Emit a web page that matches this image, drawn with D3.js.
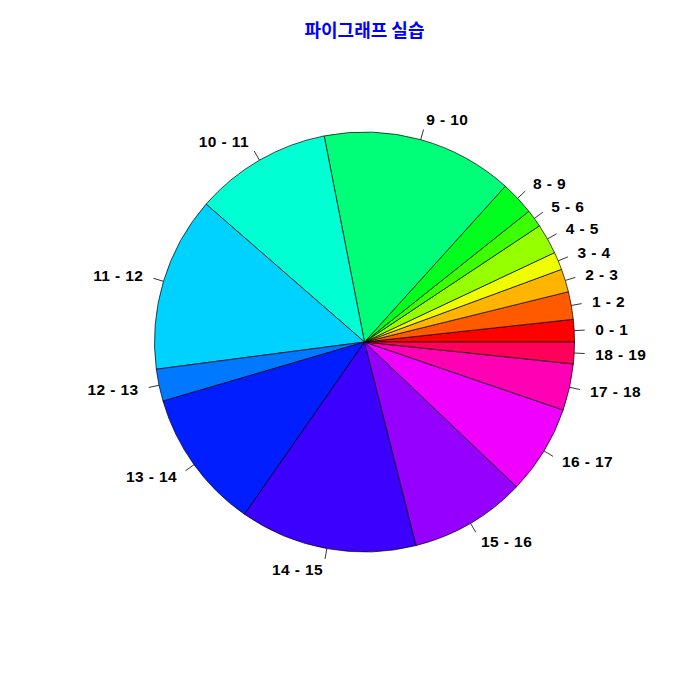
<!DOCTYPE html>
<html>
<head>
<meta charset="utf-8">
<script src="https://cdn.jsdelivr.net/npm/d3@7"></script>
<style>
  html, body { margin: 0; padding: 0; background: #fff; }
  svg { display: block; }
</style>
</head>
<body>
<svg id="chart" width="700" height="700"></svg>
<script>
const labels = ["0 - 1","1 - 2","2 - 3","3 - 4","4 - 5","5 - 6","8 - 9","9 - 10","10 - 11","11 - 12","12 - 13","13 - 14","14 - 15","15 - 16","16 - 17","17 - 18","18 - 19"];
const values = [6.2, 7.65, 6.4, 4.95, 8.4, 4.9, 9.4, 53.2, 37.9, 48.5, 8.9, 38.8, 49.1, 32.2, 24.7, 12.9, 6.0];
const colors = ["#FF0000","#FF5A00","#FFB400","#F0FF00","#96FF00","#3CFF00","#00FF1E","#00FF78","#00FFD2","#00D2FF","#0078FF","#001EFF","#3C00FF","#9600FF","#F000FF","#FF00B4","#FF005A"];
const title = "파이그래프 실습";

const svg = d3.select("#chart");
const cx = 364.5, cy = 342, R = 210;

svg.append("text")
  .attr("x", 364.5).attr("y", 29)
  .attr("text-anchor", "middle")
  .attr("dominant-baseline", "central")
  .attr("font-family", "'Noto Sans CJK KR', sans-serif")
  .attr("font-weight", "bold")
  .attr("font-size", "18px")
  .attr("fill", "#0000FF")
  .text(title);

const data = labels.map((l, i) => ({label: l, value: values[i], color: colors[i]}));
const pie = d3.pie().value(d => d.value).sort(null)
  .startAngle(Math.PI / 2).endAngle(Math.PI / 2 - 2 * Math.PI);
const arcs = pie(data);
const arc = d3.arc().innerRadius(0).outerRadius(R);

const g = svg.append("g").attr("transform", `translate(${cx},${cy})`);
g.selectAll("path.slice").data(arcs).enter().append("path")
  .attr("class", "slice")
  .attr("d", arc)
  .attr("fill", d => d.data.color)
  .attr("stroke", "#000")
  .attr("stroke-width", 0.7)
  .attr("stroke-linejoin", "round");

const mid = d => (d.startAngle + d.endAngle) / 2;
g.selectAll("line.tick").data(arcs).enter().append("line")
  .attr("class", "tick")
  .attr("x1", d => Math.sin(mid(d)) * R)
  .attr("y1", d => -Math.cos(mid(d)) * R)
  .attr("x2", d => Math.sin(mid(d)) * R * 1.05)
  .attr("y2", d => -Math.cos(mid(d)) * R * 1.05)
  .attr("stroke", "#000").attr("stroke-width", 0.8);

g.selectAll("text.lab").data(arcs).enter().append("text")
  .attr("class", "lab")
  .attr("x", d => Math.sin(mid(d)) * R * 1.1)
  .attr("y", d => -Math.cos(mid(d)) * R * 1.1)
  .attr("text-anchor", d => Math.sin(mid(d)) > 0 ? "start" : "end")
  .attr("dominant-baseline", "central")
  .attr("font-family", "'Liberation Sans', Arial, sans-serif")
  .attr("font-weight", "bold")
  .attr("font-size", "15.5px")
  .attr("letter-spacing", "0.4px")
  .attr("fill", "#000")
  .text(d => d.data.label);
</script>
</body>
</html>
